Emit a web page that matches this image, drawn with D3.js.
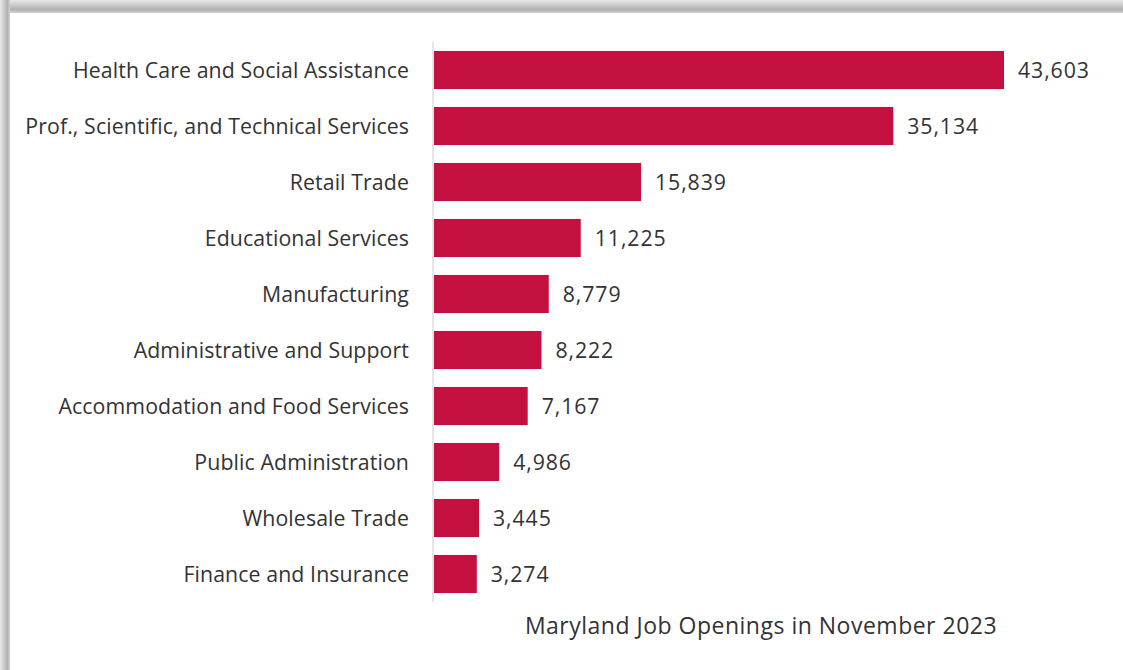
<!DOCTYPE html>
<html>
<head>
<meta charset="utf-8">
<script src="https://cdn.jsdelivr.net/npm/d3@7"></script>
<style>
  html, body { margin: 0; padding: 0; background: #ffffff; }
  svg { display: block; }
</style>
</head>
<body>
<svg id="chart" width="1123" height="670"></svg>
<script>
// Job openings by industry
const industries = [
  "Health Care and Social Assistance",
  "Prof., Scientific, and Technical Services",
  "Retail Trade",
  "Educational Services",
  "Manufacturing",
  "Administrative and Support ",
  "Accommodation and Food Services",
  "Public Administration",
  "Wholesale Trade",
  "Finance and Insurance"
];
const openings = [43603, 35134, 15839, 11225, 8779, 8222, 7167, 4986, 3445, 3274];
const chartTitle = "Maryland Job Openings in November 2023";

const W = 1123, H = 670;
const svg = d3.select("#chart");
const font = "'Open Sans', sans-serif";
const textColor = "#333333";
const barColor = "#c4103e";

// Drop-shadow frame around the chart panel
const defs = svg.append("defs");
const gTop = defs.append("linearGradient").attr("id", "shTop")
  .attr("x1", 0).attr("y1", 0).attr("x2", 0).attr("y2", 1);
gTop.append("stop").attr("offset", "0%").attr("stop-color", "#e8e8e8");
gTop.append("stop").attr("offset", "75%").attr("stop-color", "#b0b0b0");
gTop.append("stop").attr("offset", "100%").attr("stop-color", "#d4d4d4");
const gLeft = defs.append("linearGradient").attr("id", "shLeft")
  .attr("x1", 0).attr("y1", 0).attr("x2", 1).attr("y2", 0);
gLeft.append("stop").attr("offset", "0%").attr("stop-color", "#e8e8e8");
gLeft.append("stop").attr("offset", "75%").attr("stop-color", "#b0b0b0");
gLeft.append("stop").attr("offset", "100%").attr("stop-color", "#d4d4d4");

svg.append("rect").attr("x", 0).attr("y", 0).attr("width", W).attr("height", H).attr("fill", "#ffffff");
svg.append("rect").attr("x", 0).attr("y", 0).attr("width", W).attr("height", 13).attr("fill", "url(#shTop)");
svg.append("rect").attr("x", 0).attr("y", 0).attr("width", 10).attr("height", H).attr("fill", "url(#shLeft)");
svg.append("rect").attr("x", 10).attr("y", 13).attr("width", W - 10).attr("height", H - 13).attr("fill", "#ffffff");

// Plot area
const x0 = 434, y0 = 42, y1 = 602;
const x = d3.scaleLinear().domain([0, 43603]).range([x0, 1004]);
const y = d3.scaleBand().domain(industries).range([y0, y1]).paddingInner(0.32).paddingOuter(0.16);

svg.append("g").selectAll("rect").data(industries).join("rect")
  .attr("x", x(0))
  .attr("y", d => y(d))
  .attr("width", (d, i) => x(openings[i]) - x(0))
  .attr("height", y.bandwidth())
  .attr("fill", barColor);

// Category axis
const yAxis = d3.axisLeft(y).tickSize(0).tickPadding(24);
const ax = svg.append("g").attr("transform", `translate(${x0 - 1},0)`).call(yAxis);
ax.select(".domain").attr("stroke", "#d9d9d9").attr("stroke-width", 1.3).attr("d", `M0,${y0}V${y1}`);
ax.selectAll("text").attr("fill", textColor).style("font-family", font).style("font-size", "21.3px")
  .style("letter-spacing", "0.1px").attr("dy", "0.36em");

// Value labels
const fmt = d3.format(",");
svg.append("g").selectAll("text").data(industries).join("text")
  .attr("x", (d, i) => x(openings[i]) + 14)
  .attr("y", d => y(d) + y.bandwidth() / 2)
  .attr("dy", "0.37em")
  .attr("fill", textColor)
  .style("font-family", font).style("font-size", "21.3px").style("letter-spacing", "0.9px")
  .text((d, i) => fmt(openings[i]));

// Chart title below the plot
svg.append("text")
  .attr("x", 761).attr("y", 634)
  .attr("text-anchor", "middle")
  .attr("fill", textColor)
  .style("font-family", font).style("font-size", "23px").style("letter-spacing", "0.5px")
  .text(chartTitle);
</script>
</body>
</html>
